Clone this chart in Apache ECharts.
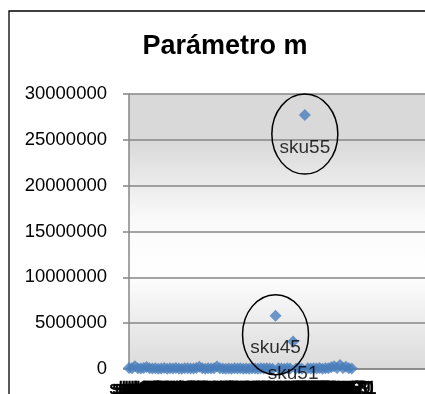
<!DOCTYPE html>
<html>
<head>
<meta charset="utf-8">
<style>
  html, body { margin: 0; padding: 0; background: #ffffff; }
  #chart { width: 425px; height: 394px; }
</style>
<script src="https://cdn.jsdelivr.net/npm/echarts@6/dist/echarts.min.js"></script>
</head>
<body>
<div id="chart"></div>
<script>
// SKU codes along the category axis
var skus = [
  'sku1','sku2','sku3','sku4','sku5','sku6','sku7','sku7b','sku8','sku9',
  'sku10','sku11','sku12','sku13','sku14','sku15','sku15b','sku16','sku17','sku18',
  'sku19','sku20','sku21','sku22','sku22b','sku23','sku24','sku25','sku26','sku27',
  'sku28','sku29','sku30','sku30b','sku31','sku32','sku33','sku34','sku35','sku36',
  'sku37','sku38','sku38b','sku39','sku40','sku41','sku41b','sku42','sku43','sku44',
  'sku45','sku46','sku47','sku48','sku49','sku50','sku51','sku52','sku53','sku54',
  'sku55','sku56','sku57','sku58','sku59','sku60','sku61','sku62','sku63','sku64',
  'sku65','sku66','sku67','sku68','sku69','sku70','sku71'
];

// Parameter m for each SKU
var mValues = [
  120000, 80000, 300000, 90000, 60000, 110000, 220000, 70000, 50000, 90000,
  40000, 60000, 100000, 30000, 80000, 50000, 120000, 60000, 40000, 90000,
  70000, 50000, 60000, 100000, 250000, 80000, 40000, 70000, 60000, 90000,
  260000, 80000, 50000, 40000, 60000, 30000, 70000, 50000, 90000, 40000,
  60000, 30000, 80000, 50000, 40000, 70000, 60000, 90000, 50000, 40000,
  5820000, 70000, 60000, 40000, 80000, 50000, 3000000, 60000, 90000, 40000,
  27700000, 70000, 50000, 80000, 60000, 120000, 40000, 90000, 70000, 200000,
  300000, 100000, 450000, 120000, 250000, 80000, 60000
];

// Value axis ticks
var yTicks = [0, 5000000, 10000000, 15000000, 20000000, 25000000, 30000000];

// SKUs that get a name label, and those that are circled
var labelledSkus = ['sku45', 'sku51', 'sku55'];
var circledSkus = ['sku45', 'sku55'];

var FONT = '"Liberation Sans", Arial, sans-serif';
var chart = echarts.init(document.getElementById('chart'), null, { renderer: 'canvas' });

var points = mValues.map(function (v, i) {
  var item = { value: [i, v] };
  if (labelledSkus.indexOf(skus[i]) >= 0) {
    item.label = { show: true, formatter: skus[i] };
  }
  return item;
});

var option = {
  animation: false,
  backgroundColor: '#ffffff',
  title: {
    text: 'Parámetro m',
    left: 220,
    top: 28,
    textAlign: 'center',
    textStyle: { fontFamily: FONT, fontSize: 27, fontWeight: 'bold', color: '#000000' }
  },
  grid: {
    left: 129, right: 0, top: 94, bottom: 25,
    outerBoundsMode: 'none',
    containLabel: false,
    show: true,
    borderWidth: 0,
    backgroundColor: {
      type: 'linear', x: 0, y: 0, x2: 0, y2: 1,
      colorStops: [
        { offset: 0, color: '#d9d9d9' },
        { offset: 0.17, color: '#d9d9d9' },
        { offset: 0.45, color: '#f9f9f9' },
        { offset: 0.65, color: '#ffffff' },
        { offset: 1, color: '#dadada' }
      ]
    }
  },
  xAxis: {
    type: 'category',
    data: skus,
    boundaryGap: false,
    min: 0,
    max: 101,
    axisLine: { show: true, lineStyle: { color: '#868686', width: 1.5 } },
    axisTick: { show: false },
    splitLine: { show: false },
    axisLabel: {
      interval: 0,
      hideOverlap: false,
      margin: 10,
      fontFamily: FONT,
      fontSize: 18.5,
      color: '#000000',
      textBorderColor: '#000000',
      textBorderWidth: 0.6,
      formatter: function (v) { return v; }
    }
  },
  yAxis: {
    type: 'value',
    min: yTicks[0],
    max: yTicks[yTicks.length - 1],
    interval: yTicks[1] - yTicks[0],
    axisLine: { show: true, lineStyle: { color: '#868686', width: 1.5 } },
    axisTick: { show: true, length: 6, lineStyle: { color: '#868686', width: 1.5 } },
    splitLine: { show: true, lineStyle: { color: '#868686', width: 1.5 } },
    axisLabel: {
      margin: 22,
      fontFamily: FONT,
      fontSize: 18.5,
      color: '#000000',
      formatter: function (v) { return String(v); }
    }
  },
  series: [{
    type: 'scatter',
    data: points,
    symbol: 'diamond',
    symbolSize: 12,
    itemStyle: { color: '#4a7ebb' },
    label: {
      show: false,
      position: 'bottom',
      distance: 17,
      fontFamily: FONT,
      fontSize: 19,
      color: '#000000'
    },
    z: 3
  }]
};

chart.setOption(option);

// Outer chart border plus ellipses drawn round the circled SKUs
var graphics = [{
  type: 'rect',
  shape: { x: 9, y: 11, width: 460, height: 420 },
  style: { fill: null, stroke: '#000000', lineWidth: 1.3 },
  silent: true,
  z: 10
}];
circledSkus.forEach(function (name) {
  var i = skus.indexOf(name);
  var p = chart.convertToPixel({ gridIndex: 0 }, [i, mValues[i]]);
  graphics.push({
    type: 'ellipse',
    shape: { cx: p[0], cy: p[1] + 19, rx: 33, ry: 40 },
    style: { fill: null, stroke: '#000000', lineWidth: 1.5 },
    silent: true,
    z: 10
  });
});
chart.setOption({ graphic: graphics });
</script>
</body>
</html>
